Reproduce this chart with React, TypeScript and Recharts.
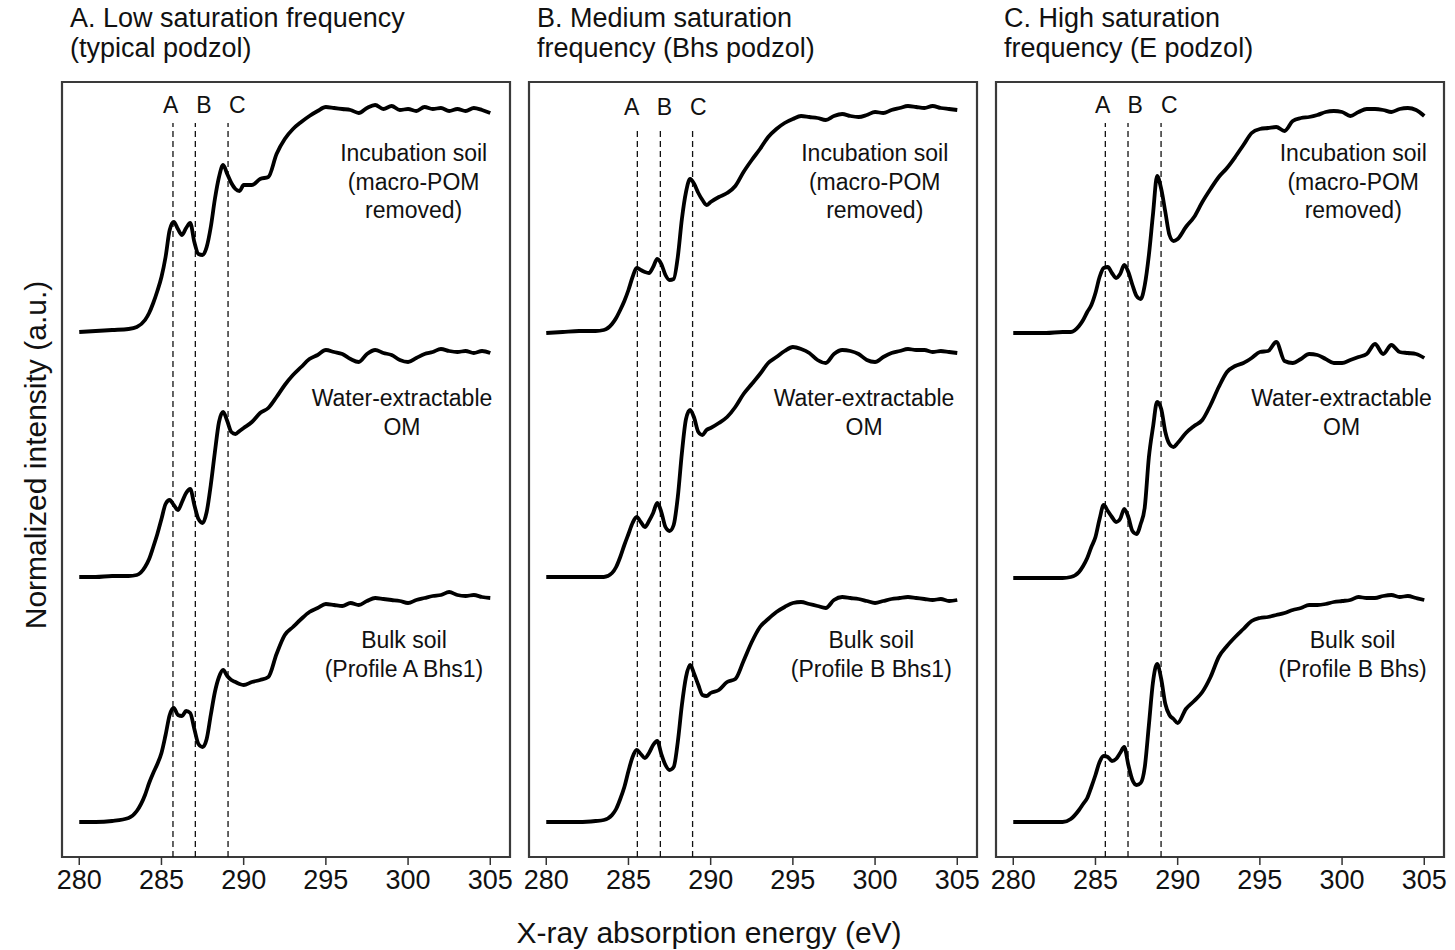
import React from 'react';
import { LineChart, Line, XAxis, YAxis, ReferenceLine, ReferenceDot, ReferenceArea } from 'recharts';

// Energy grid (eV) shared by every spectrum; finer steps across the absorption edge.
const ENERGY = [
  280, 281, 282, 283, 283.5, 284, 284.25, 284.5, 284.75, 285,
  285.25, 285.5, 285.75, 286, 286.25, 286.5, 286.75, 287, 287.25, 287.5,
  287.75, 288, 288.25, 288.5, 288.75, 289, 289.25, 289.5, 289.75, 290,
  290.5, 291, 291.5, 292, 292.5, 293, 293.5, 294, 294.5, 295,
  295.5, 296, 296.5, 297, 297.5, 298, 298.5, 299, 299.5, 300,
  300.5, 301, 301.5, 302, 302.5, 303, 303.5, 304, 304.5, 305,
];

const X_TICKS = [280, 285, 290, 295, 300, 305];
const PEAK_NAMES = ['A', 'B', 'C'];

// Stacked normalized intensities (a.u., offset per sample)
const LOW_INCUBATION = [
  525, 526, 527, 528, 530, 537, 544, 554, 566, 580,
  600, 627, 635, 628, 622, 629, 634, 615, 603, 602,
  610, 630, 658, 680, 692, 683, 674, 668, 666, 672,
  672, 678, 680, 703, 718, 728, 735, 741, 746, 750,
  749, 748, 747, 744, 749, 752, 748, 751, 747, 748,
  746, 750, 748, 749, 746, 748, 746, 749, 747, 744,
];
const LOW_WATER = [
  280, 280, 281, 281, 282, 290, 298, 310, 323, 338,
  353, 357, 352, 347, 355, 364, 368, 352, 338, 334,
  345, 372, 405, 435, 445, 436, 425, 423, 426, 429,
  435, 444, 449, 460, 472, 482, 490, 498, 502, 507,
  505, 503, 498, 495, 503, 507, 504, 502, 497, 495,
  499, 503, 505, 508, 506, 505, 506, 504, 506, 504,
];
const LOW_BULK = [
  35, 35, 36, 39, 46, 62, 74, 84, 93, 104,
  122, 142, 149, 142, 141, 146, 144, 128, 113, 110,
  118, 142, 165, 180, 187, 181, 177, 175, 173, 172,
  175, 177, 180, 203, 222, 230, 238, 245, 249, 253,
  252, 251, 254, 252, 256, 259, 258, 257, 256, 254,
  257, 259, 261, 262, 265, 262, 261, 262, 260, 259,
];

const MED_INCUBATION = [
  524, 525, 526, 526, 527, 533, 539, 547, 556, 567,
  580, 589, 587, 585, 584, 590, 598, 593, 582, 577,
  578, 600, 638, 665, 678, 673, 664, 657, 652, 655,
  660, 664, 671, 685, 697, 708, 720, 728, 734, 738,
  741, 740, 739, 737, 741, 743, 741, 740, 742, 745,
  744, 747, 749, 751, 750, 749, 751, 749, 748, 747,
];
const MED_WATER = [
  280, 280, 280, 280, 280, 284, 290, 300, 312, 323,
  334, 340, 335, 330, 336, 344, 354, 345, 330, 326,
  332, 360, 404, 438, 447, 439, 425, 422, 427, 429,
  434, 440, 450, 463, 473, 483, 494, 500, 506, 510,
  508, 504, 497, 494, 503, 507, 506, 503, 497, 495,
  500, 504, 506, 508, 507, 507, 505, 506, 505, 504,
];
const MED_BULK = [
  35, 35, 35, 36, 37, 42, 48, 58, 70, 86,
  100, 107, 103, 99, 104, 112, 116, 103, 92, 87,
  90, 115, 152, 180, 192, 183, 172, 162, 161, 164,
  167, 175, 178, 196, 215, 230, 238, 245, 250, 254,
  255, 253, 251, 249, 257, 260, 259, 258, 256, 254,
  256, 258, 259, 260, 259, 258, 257, 258, 256, 257,
];

const HIGH_INCUBATION = [
  524, 524, 524, 525, 525, 531, 537, 545, 552, 564,
  580, 589, 590, 584, 579, 583, 592, 585, 572, 561,
  558, 572, 602, 643, 681, 668, 645, 622, 616, 618,
  630, 640, 655, 668, 680, 689, 700, 712, 724, 728,
  729, 730, 726, 736, 739, 740, 742, 745, 746, 745,
  741, 745, 748, 748, 747, 745, 748, 749, 747, 741,
];
const HIGH_WATER = [
  279, 279, 279, 279, 280, 285, 291, 299, 310, 320,
  338, 352, 346, 340, 335, 338, 348, 340, 326, 323,
  333, 350, 400, 430, 455, 448, 425, 413, 410, 414,
  424, 431, 437, 452, 470, 485, 491, 494, 499, 505,
  506, 515, 496, 494, 498, 503, 502, 498, 494, 494,
  497, 500, 503, 513, 503, 512, 505, 504, 503, 499,
];
const HIGH_BULK = [
  35, 35, 35, 35, 38, 47, 53, 59, 70, 82,
  95, 101, 100, 96, 98, 104, 110, 92, 77, 72,
  74, 90, 132, 175, 193, 178, 153, 142, 138, 134,
  148, 156, 165, 180, 200, 211, 220, 228, 236, 239,
  240, 242, 244, 247, 249, 252, 252, 253, 255, 256,
  257, 260, 259, 259, 261, 262, 260, 261, 259, 257,
];

// Peak energies marked by dashed lines (A, B, C)
const LOW_PEAKS = [285.7, 287.06, 289.05];
const MED_PEAKS = [285.54, 286.94, 288.9];
const HIGH_PEAKS = [285.6, 286.98, 288.99];

const LOW_SAMPLES = [['Incubation soil', '(macro-POM', 'removed)'], ['Water-extractable', 'OM'], ['Bulk soil', '(Profile A Bhs1)']];
const MED_SAMPLES = [['Incubation soil', '(macro-POM', 'removed)'], ['Water-extractable', 'OM'], ['Bulk soil', '(Profile B Bhs1)']];
const HIGH_SAMPLES = [['Incubation soil', '(macro-POM', 'removed)'], ['Water-extractable', 'OM'], ['Bulk soil', '(Profile B Bhs)']];

const FONT = 'Arial, "Liberation Sans", Helvetica, sans-serif';
const PLOT_W = 448;
const PAD = 12;
const BOX_TOP = 82;
const CHART_H = 900;
const AXIS_H = 43;
const X_DOMAIN: [number, number] = [278.95, 306.2];
const Y_MAX = 775;

interface PanelDef {
  title: string[];
  left: number;
  traces: number[][];
  peaks: number[];
  samples: string[][];
  peakLabelX: number[];
  peakLabelY: number;
  dashTop: number;
  sampleAt: [number, number][];
}

const PANELS: PanelDef[] = [
  {
    title: ['A. Low saturation frequency', '(typical podzol)'],
    left: 62,
    traces: [LOW_INCUBATION, LOW_WATER, LOW_BULK],
    peaks: LOW_PEAKS,
    samples: LOW_SAMPLES,
    peakLabelX: [285.56, 287.59, 289.61],
    peakLabelY: 752,
    dashTop: 734,
    sampleAt: [[300.34, 704], [299.63, 459], [299.75, 217]],
  },
  {
    title: ['B. Medium saturation', 'frequency (Bhs podzol)'],
    left: 529,
    traces: [MED_INCUBATION, MED_WATER, MED_BULK],
    peaks: MED_PEAKS,
    samples: MED_SAMPLES,
    peakLabelX: [285.19, 287.18, 289.25],
    peakLabelY: 750,
    dashTop: 729,
    sampleAt: [[299.98, 704], [299.33, 459], [299.77, 217]],
  },
  {
    title: ['C. High saturation', 'frequency (E podzol)'],
    left: 996,
    traces: [HIGH_INCUBATION, HIGH_WATER, HIGH_BULK],
    peaks: HIGH_PEAKS,
    samples: HIGH_SAMPLES,
    peakLabelX: [285.44, 287.42, 289.49],
    peakLabelY: 752,
    dashTop: 734,
    sampleAt: [[300.68, 704], [299.97, 459], [300.64, 217]],
  },
];

const SERIES = ['incubation', 'water', 'bulk'];

// multi-line centered annotation anchored on a reference dot
const stackedLabel = (lines: string[]) => (props: any) => {
  const vb = props.viewBox || {};
  const cx = (vb.x ?? 0) + (vb.width ?? 0) / 2;
  const cy = (vb.y ?? 0) + (vb.height ?? 0) / 2;
  return (
    <text x={cx} y={cy} textAnchor="middle" fontSize={23} fill="#111" fontFamily={FONT}>
      {lines.map((t, i) => (
        <tspan key={t} x={cx} dy={i === 0 ? '0.36em' : 28.5}>{t}</tspan>
      ))}
    </text>
  );
};

const SpectraPanel: React.FC<{ panel: PanelDef }> = ({ panel }) => {
  const rows = ENERGY.map((energy, i) => ({
    energy,
    incubation: panel.traces[0][i],
    water: panel.traces[1][i],
    bulk: panel.traces[2][i],
  }));

  return (
    <div style={{ position: 'absolute', left: panel.left - PAD, top: 0 }}>
      <LineChart
        width={PLOT_W + 2 * PAD}
        height={CHART_H}
        data={rows}
        margin={{ top: BOX_TOP, right: PAD, bottom: 0, left: PAD }}
      >
        <XAxis
          dataKey="energy"
          type="number"
          domain={X_DOMAIN}
          ticks={X_TICKS}
          interval={0}
          allowDataOverflow
          axisLine={false}
          tickLine={{ stroke: '#333', strokeWidth: 1.5 }}
          tickSize={8}
          tickMargin={5}
          height={AXIS_H}
          tick={{ fontSize: 27, fill: '#111', fontFamily: FONT }}
        />
        <YAxis hide type="number" domain={[0, Y_MAX]} />
        <ReferenceArea
          x1={X_DOMAIN[0]}
          x2={X_DOMAIN[1]}
          y1={0}
          y2={Y_MAX}
          fill="none"
          fillOpacity={0}
          stroke="#3a3a3a"
          strokeWidth={2.2}
        />
        {panel.peaks.map((e, i) => (
          <ReferenceLine
            key={`peak-${i}`}
            segment={[{ x: e, y: 0 }, { x: e, y: panel.dashTop }]}
            stroke="#111"
            strokeWidth={1.3}
            strokeDasharray="6 4"
          />
        ))}
        {PEAK_NAMES.map((name, i) => (
          <ReferenceDot
            key={`name-${name}`}
            x={panel.peakLabelX[i]}
            y={panel.peakLabelY}
            r={0}
            fill="none"
            stroke="none"
            label={stackedLabel([name])}
          />
        ))}
        {panel.samples.map((lines, i) => (
          <ReferenceDot
            key={`sample-${i}`}
            x={panel.sampleAt[i][0]}
            y={panel.sampleAt[i][1]}
            r={0}
            fill="none"
            stroke="none"
            label={stackedLabel(lines)}
          />
        ))}
        {SERIES.map((key) => (
          <Line
            key={key}
            dataKey={key}
            type="monotone"
            stroke="#000"
            strokeWidth={3.8}
            strokeLinejoin="round"
            dot={false}
            activeDot={false}
            isAnimationActive={false}
          />
        ))}
      </LineChart>
    </div>
  );
};

export default function App() {
  return (
    <div
      style={{
        position: 'absolute',
        left: 0,
        top: 0,
        width: 1455,
        height: 950,
        background: '#fff',
        fontFamily: FONT,
        overflow: 'hidden',
      }}
    >
      {PANELS.map((p, i) => (
        <SpectraPanel key={i} panel={p} />
      ))}
      <svg
        width={1455}
        height={950}
        style={{ position: 'absolute', left: 0, top: 0, pointerEvents: 'none' }}
      >
        {PANELS.map((p, i) => (
          <text key={i} x={p.left + 8} y={27} fontSize={27} fill="#111" fontFamily={FONT}>
            <tspan x={p.left + 8}>{p.title[0]}</tspan>
            <tspan x={p.left + 8} dy={30}>{p.title[1]}</tspan>
          </text>
        ))}
        <text x={709} y={943} textAnchor="middle" fontSize={30} fill="#111" fontFamily={FONT}>
          X-ray absorption energy (eV)
        </text>
        <text
          x={46}
          y={455}
          textAnchor="middle"
          fontSize={30}
          fill="#111"
          fontFamily={FONT}
          transform="rotate(-90 46 455)"
        >
          Normalized intensity (a.u.)
        </text>
      </svg>
    </div>
  );
}
